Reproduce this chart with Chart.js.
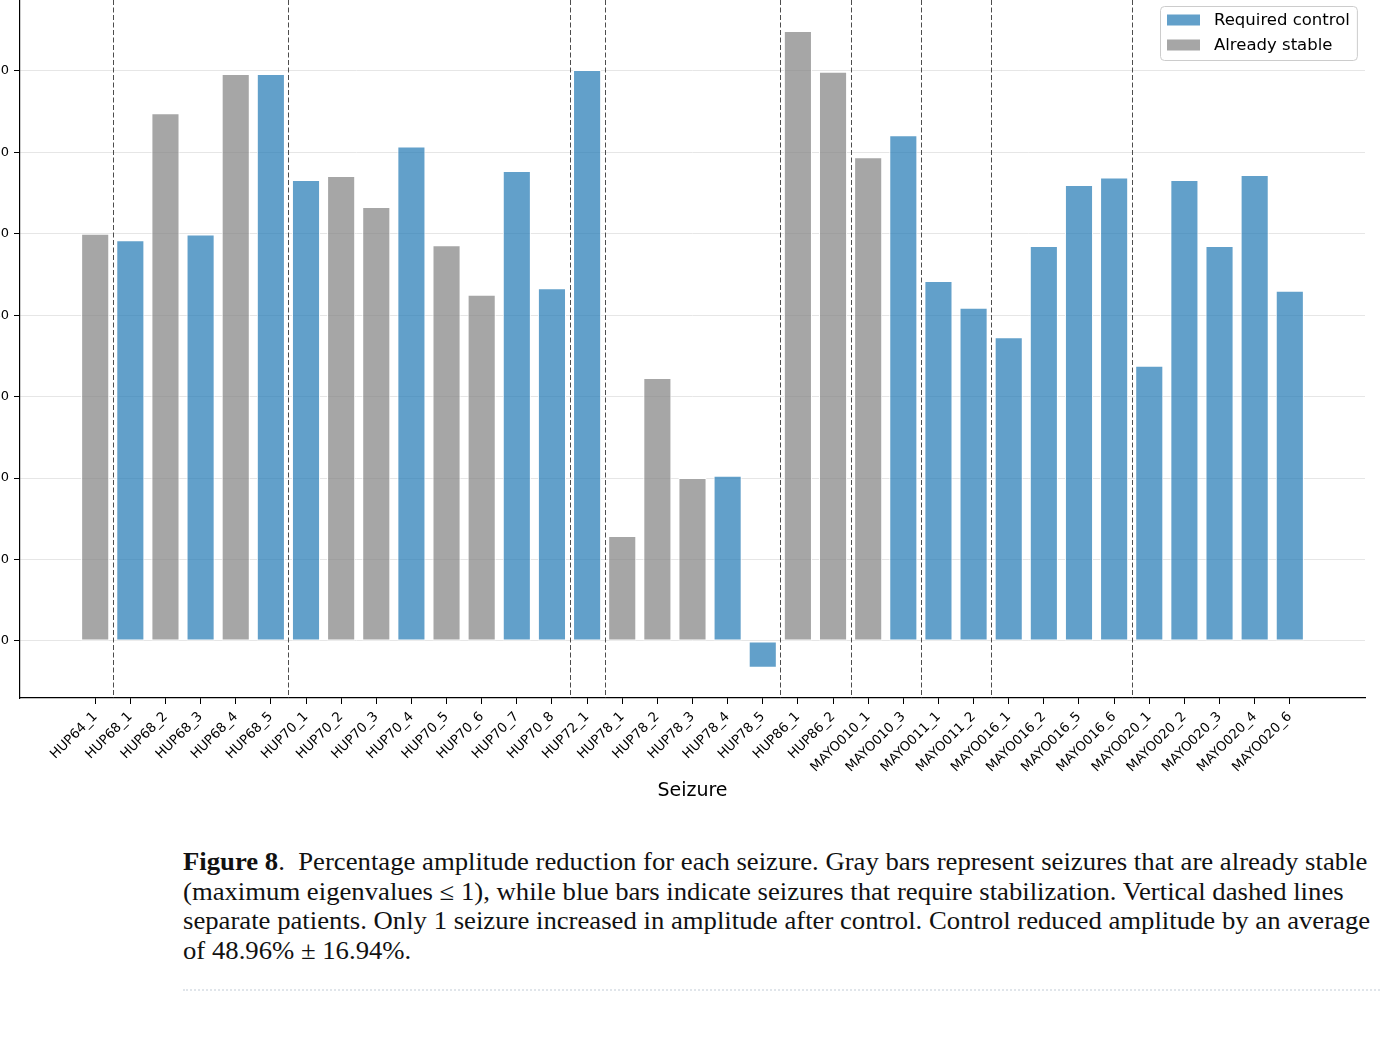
<!DOCTYPE html>
<html>
<head>
<meta charset="utf-8">
<script src="https://cdn.jsdelivr.net/npm/chart.js@4/dist/chart.umd.min.js"></script>
<style>
html, body { margin:0; padding:0; background:#fff; }
body { width:1380px; height:1050px; position:relative; overflow:hidden; }
#wrap { position:absolute; left:-40px; top:0; width:1420px; height:802px; }
#caption { position:absolute; left:183px; top:847px; font-family:"Liberation Serif", serif; font-size:24.5px; line-height:29.7px; color:#111; white-space:nowrap; transform:scaleX(1.09); transform-origin:0 0; }
#rule { position:absolute; left:183px; top:989px; width:1197px; border-top:2px dotted #e0e5ea; }
</style>
</head>
<body>
<div id="wrap"><canvas id="chart" width="1420" height="802"></canvas></div>
<div id="caption"><b>Figure 8</b>.&nbsp; Percentage amplitude reduction for each seizure. Gray bars represent seizures that are already stable<br>(maximum eigenvalues &le; 1), while blue bars indicate seizures that require stabilization. Vertical dashed lines<br>separate patients. Only 1 seizure increased in amplitude after control. Control reduced amplitude by an average<br>of 48.96% &plusmn; 16.94%.</div>
<div id="rule"></div>
<script>
const seizures = ['HUP64_1', 'HUP68_1', 'HUP68_2', 'HUP68_3', 'HUP68_4', 'HUP68_5',
  'HUP70_1', 'HUP70_2', 'HUP70_3', 'HUP70_4', 'HUP70_5', 'HUP70_6', 'HUP70_7', 'HUP70_8',
  'HUP72_1', 'HUP78_1', 'HUP78_2', 'HUP78_3', 'HUP78_4', 'HUP78_5', 'HUP86_1', 'HUP86_2',
  'MAYO010_1', 'MAYO010_3', 'MAYO011_1', 'MAYO011_2', 'MAYO016_1', 'MAYO016_2', 'MAYO016_5',
  'MAYO016_6', 'MAYO020_1', 'MAYO020_2', 'MAYO020_3', 'MAYO020_4', 'MAYO020_6'];

// percentage amplitude reduction
const reduction = [50.0, 49.2, 64.8, 49.9, 69.6, 69.6,
  56.6, 57.1, 53.3, 60.7, 48.6, 42.5, 57.7, 43.3,
  70.1, 12.9, 32.3, 20.0, 20.3, -3.3, 74.9, 69.9,
  59.4, 62.1, 44.2, 40.9, 37.3, 48.5, 56.0,
  56.9, 33.8, 56.6, 48.5, 57.2, 43.0];

// 'C' = required control, 'S' = already stable
const status = ['S', 'C', 'S', 'C', 'S', 'C',
  'C', 'S', 'S', 'C', 'S', 'S', 'C', 'C',
  'C', 'S', 'S', 'S', 'C', 'C', 'S', 'S',
  'S', 'C', 'C', 'C', 'C', 'C', 'C',
  'C', 'C', 'C', 'C', 'C', 'C'];

const yTicks = [0, 10, 20, 30, 40, 50, 60, 70];

function points(kind) {
  const out = [];
  reduction.forEach((v, i) => { if (status[i] === kind) out.push({x: i, y: v}); });
  return out;
}

const patientOf = s => s.slice(0, s.lastIndexOf('_'));

const patientLines = {
  id: 'patientLines',
  afterDatasetsDraw(chart) {
    const ctx = chart.ctx, a = chart.chartArea, xs = chart.scales.x;
    ctx.save();
    ctx.strokeStyle = '#4d4d4d';
    ctx.lineWidth = 1;
    ctx.setLineDash([5, 2.5]);
    for (let i = 1; i < seizures.length; i++) {
      if (patientOf(seizures[i]) !== patientOf(seizures[i - 1])) {
        const px = Math.round(xs.getPixelForValue(i - 0.5)) + 0.5;
        ctx.beginPath();
        ctx.moveTo(px, a.top);
        ctx.lineTo(px, a.bottom);
        ctx.stroke();
      }
    }
    ctx.restore();
  }
};

const insideLegend = {
  id: 'insideLegend',
  afterDraw(chart) {
    const ctx = chart.ctx, a = chart.chartArea;
    const items = chart.data.datasets;
    ctx.save();
    ctx.font = '16.5px "DejaVu Sans"';
    const textW = Math.max(...items.map(d => ctx.measureText(d.label).width));
    const w = 7 + 33 + 14 + textW + 7, h = 54;
    const x = Math.round(a.right - 8 - w), y = a.top + 6;
    ctx.beginPath();
    ctx.roundRect(x + 0.5, y + 0.5, w, h, 4);
    ctx.fillStyle = 'rgba(255,255,255,0.85)';
    ctx.fill();
    ctx.strokeStyle = '#cccccc';
    ctx.lineWidth = 1;
    ctx.stroke();
    ctx.textBaseline = 'middle';
    items.forEach((d, i) => {
      const cy = y + 14 + i * 25;
      ctx.fillStyle = d.backgroundColor;
      ctx.fillRect(x + 7, cy - 5.5, 33, 11);
      ctx.fillStyle = '#000';
      ctx.fillText(d.label, x + 54, cy + 1);
    });
    ctx.restore();
  }
};

new Chart(document.getElementById('chart').getContext('2d'), {
  type: 'bar',
  data: {
    datasets: [{
      label: 'Required control',
      data: points('C'),
      backgroundColor: 'rgba(31,119,180,0.7)',
      borderColor: '#ffffff',
      borderWidth: 1,
      borderSkipped: false,
      grouped: false,
      barPercentage: 0.8,
      categoryPercentage: 1
    }, {
      label: 'Already stable',
      data: points('S'),
      backgroundColor: 'rgba(128,128,128,0.7)',
      borderColor: '#ffffff',
      borderWidth: 1,
      borderSkipped: false,
      grouped: false,
      barPercentage: 0.8,
      categoryPercentage: 1
    }]
  },
  options: {
    responsive: false,
    animation: false,
    devicePixelRatio: 1,
    layout: {padding: {left: 0, right: 15, top: 0, bottom: 0}},
    plugins: {legend: {display: false}, tooltip: {enabled: false}},
    scales: {
      x: {
        type: 'linear',
        offset: false,
        min: -2.14,
        max: 36.14,
        afterBuildTicks: s => { s.ticks = seizures.map((_, i) => ({value: i})); },
        afterFit: s => { s.height = 104; },
        ticks: {
          autoSkip: false,
          minRotation: 45,
          maxRotation: 45,
          callback: v => seizures[v],
          font: {family: 'DejaVu Sans', size: 13.3},
          color: '#000',
          padding: 5
        },
        grid: {drawOnChartArea: false, offset: false, tickLength: 6, tickColor: '#000'},
        border: {color: '#000', width: 1.2},
        title: {display: true, text: 'Seizure', color: '#000',
          font: {family: 'DejaVu Sans', size: 19}, padding: {top: 4, bottom: 0}}
      },
      y: {
        min: -7,
        max: 78.7,
        afterBuildTicks: s => { s.ticks = yTicks.map(v => ({value: v})); },
        afterFit: s => { s.width = 60; s.paddingTop = 0; s.paddingBottom = 0; },
        ticks: {font: {family: 'DejaVu Sans', size: 13}, color: '#000', padding: 5},
        grid: {color: '#e6e6e6', tickColor: '#000', tickLength: 6},
        border: {color: '#000', width: 1.2}
      }
    }
  },
  plugins: [patientLines, insideLegend]
});
</script>
</body>
</html>
